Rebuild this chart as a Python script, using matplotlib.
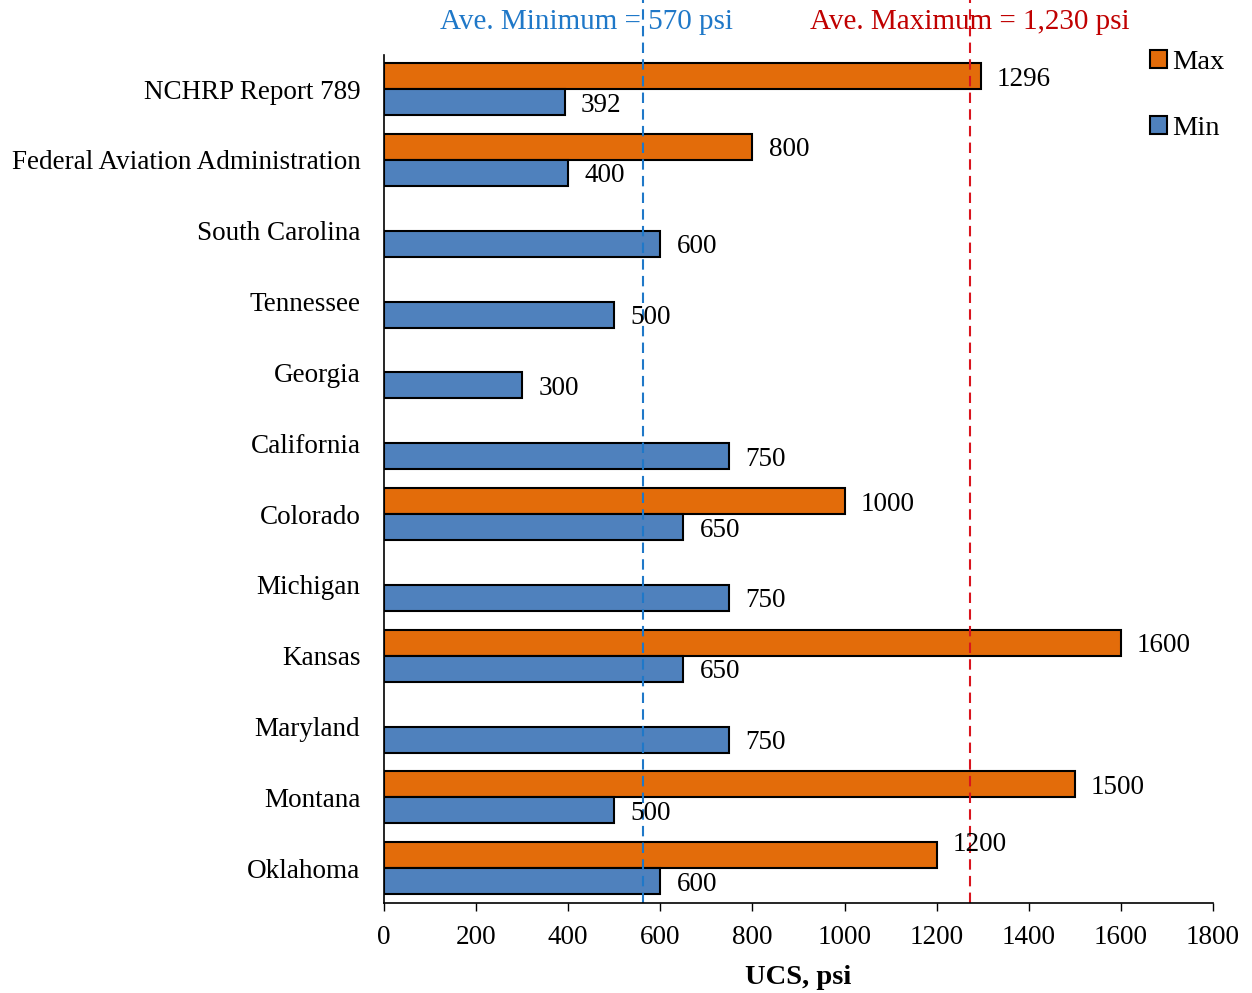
import matplotlib
matplotlib.use('Agg')
import matplotlib.pyplot as plt
import numpy as np

# ==================== DATA ====================
categories = ["NCHRP Report 789", "Federal Aviation Administration", "South Carolina",
              "Tennessee", "Georgia", "California", "Colorado", "Michigan", "Kansas",
              "Maryland", "Montana", "Oklahoma"]
max_vals = [1296, 800, np.nan, np.nan, np.nan, np.nan, 1000, np.nan, 1600, np.nan, 1500, 1200]
min_vals = [392, 400, 600, 500, 300, 750, 650, 750, 650, 750, 500, 600]

ave_min_x = 562     # where the dashed line sits on the axis
ave_max_x = 1272
ave_min_label = "Ave. Minimum = 570 psi"
ave_max_label = "Ave. Maximum = 1,230 psi"
x_ticks = list(range(0, 1801, 200))

ORANGE = '#E36C0A'
BLUE = '#4F81BD'

plt.rcParams['font.family'] = ['Liberation Serif', 'DejaVu Serif']

fig = plt.figure(figsize=(12.52, 9.93), dpi=100)
ax = fig.add_axes([384 / 1252, 1 - 903 / 993, (1213 - 384) / 1252, (903 - 55) / 993])

y = np.arange(len(categories))
h = 0.367
ax.barh(y - h / 2, max_vals, height=h, color=ORANGE, edgecolor='black', linewidth=1.5, label='Max')
ax.barh(y + h / 2, min_vals, height=h, color=BLUE, edgecolor='black', linewidth=1.5, label='Min')

fs = 19.5
for i, (mx, mn) in enumerate(zip(max_vals, min_vals)):
    if not np.isnan(mx):
        dy = -0.2 if categories[i] == "Oklahoma" else 0
        ax.text(mx + 35, i - h / 2 + dy, f"{int(mx)}", va='center_baseline', ha='left', fontsize=fs)
    ax.text(mn + 35, i + h / 2, f"{int(mn)}", va='center_baseline', ha='left', fontsize=fs)

ax.axvline(ave_min_x, color='#1F78C8', linestyle=(0, (5, 3)), linewidth=1.5, ymin=0, ymax=1.2, clip_on=False)
ax.axvline(ave_max_x, color='#D9151E', linestyle=(0, (5, 3)), linewidth=1.5, ymin=0, ymax=1.2, clip_on=False)
fig.text(586 / 1252, 1 - 22 / 993, ave_min_label, color='#1F78C8', ha='center', va='center', fontsize=21)
fig.text(970 / 1252, 1 - 22 / 993, ave_max_label, color='#C00000', ha='center', va='center', fontsize=21)

ax.set_xlim(0, 1800)
ax.set_ylim(len(categories) - 0.51, -0.48)
ax.set_xticks(x_ticks)
ax.set_xticklabels([str(t) for t in x_ticks], fontsize=fs)
ax.set_yticks(y)
ax.set_yticklabels(categories, fontsize=fs)
ax.tick_params(axis='y', length=0, pad=17)
ax.tick_params(axis='x', direction='out', length=6, width=1, pad=9.5)
ax.set_xlabel('UCS, psi', fontsize=20.5, fontweight='bold', labelpad=11)

for side in ['top', 'right']:
    ax.spines[side].set_visible(False)
ax.spines['left'].set_linewidth(1.2)
ax.spines['bottom'].set_linewidth(1.2)

fig.legend(loc='upper left', bbox_to_anchor=(1124 / 1252, 1 - 24 / 993), frameon=False,
           fontsize=20.5, handlelength=0.6, handleheight=0.6, handletextpad=0.2, labelspacing=1.45)

fig.savefig('out.png', dpi=100)
